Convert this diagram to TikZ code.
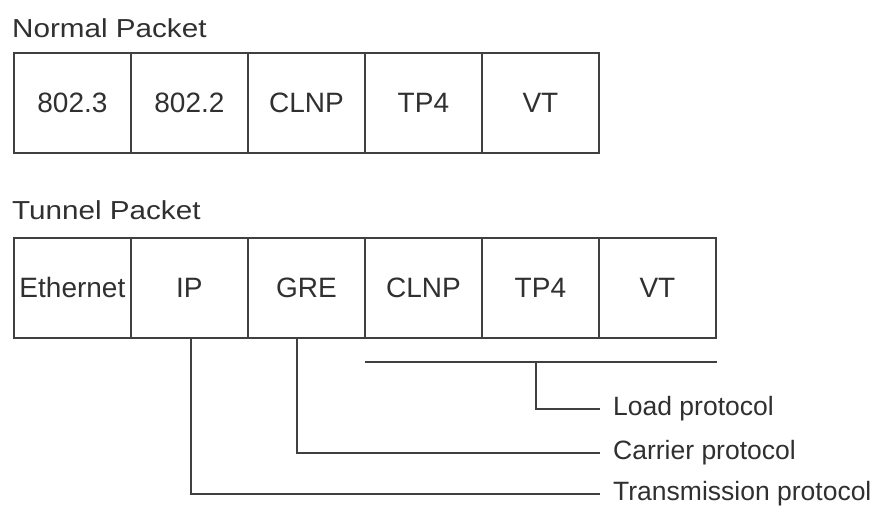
\documentclass[tikz,border=0pt]{standalone}
\usepackage{fontspec}
\setmainfont{Liberation Sans}
\newfontfamily\widefont[FakeStretch=1.14]{Liberation Sans}
\definecolor{ln}{HTML}{404040}
\definecolor{tx}{HTML}{303030}
\begin{document}
\begin{tikzpicture}[x=1pt,y=-1pt,
  cell/.style={draw=ln,line width=1.8pt,minimum width=117pt,minimum height=100pt,inner sep=0pt,anchor=north west,text=tx,font=\fontsize{28}{32}\selectfont},
  ttl/.style={anchor=west,inner sep=0pt,text=tx,font=\widefont\fontsize{26}{30}\selectfont},
  lbl/.style={anchor=west,inner sep=0pt,text=tx,font=\fontsize{26.5}{30}\selectfont},
  conn/.style={draw=ln,line width=1.8pt}]
\useasboundingbox[fill=white] (0,0) rectangle (883,507);
\node[ttl] (t1) at (12,28) {Normal Packet};
\node[cell] (n1) at (13,52) {802.3};
\node[cell] (n2) at (130,52) {802.2};
\node[cell] (n3) at (247,52) {CLNP};
\node[cell] (n4) at (364,52) {TP4};
\node[cell] (n5) at (481,52) {VT};
\node[ttl] (t2) at (12,210) {Tunnel Packet};
\node[cell] (e) at (13,237) {Ethernet};
\node[cell] (ip) at (130,237) {IP};
\node[cell] (gre) at (247,237) {GRE};
\node[cell] (c) at (364,237) {CLNP};
\node[cell] (tp) at (481,237) {TP4};
\node[cell] (vt) at (598,237) {VT};
\coordinate (bl) at (365,362);
\coordinate (br) at (717,362);
\draw[conn,line width=2.4pt] (bl) -- (br);
\coordinate (lt) at (536,362);
\node[lbl] (load) at (613,409) {Load protocol};
\node[lbl] (car) at (613,453) {Carrier protocol};
\node[lbl] (tra) at (613,494) {Transmission protocol};
\draw[conn] (lt) |- ([xshift=-13pt]load.west);
\draw[conn] ([xshift=50pt]gre.south west) |- ([xshift=-13pt]car.west);
\draw[conn] ([xshift=61pt]ip.south west) |- ([xshift=-13pt]tra.west);
\end{tikzpicture}
\end{document}
